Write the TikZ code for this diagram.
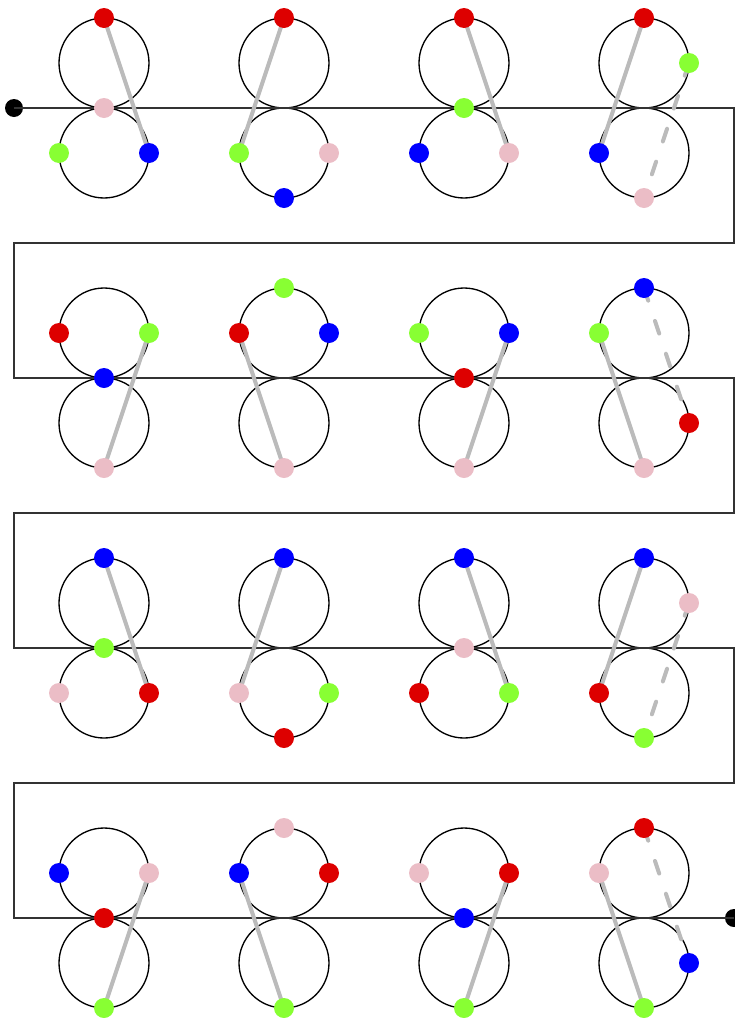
\documentclass[tikz,border=0pt]{standalone}
\definecolor{cred}{HTML}{DD0000}
\definecolor{cgreen}{HTML}{88FF33}
\definecolor{cblue}{HTML}{0000FF}
\definecolor{cpink}{HTML}{EBBDC6}
\definecolor{cgray}{HTML}{BBBBBB}
\begin{document}
\begin{tikzpicture}[x=0.75pt,y=-0.75pt,
  ring/.style={draw=black,line width=1pt},
  track/.style={draw=black!80,line width=1pt},
  link/.style={draw=cgray,line width=3pt,line cap=round},
  dlink/.style={link,dash pattern=on 10pt off 16pt},
  pt/.style={circle,inner sep=0pt,minimum size=15pt,fill=#1,draw=none},
  enddot/.style={circle,inner sep=0pt,minimum size=13.5pt,fill=black,draw=none}]
\useasboundingbox (0,0) rectangle (735,1018);
% cell coordinates
\foreach \r in {0,...,3}{
  \foreach \c in {0,...,3}{
    \pgfmathsetmacro\cx{104+180*\c}
    \pgfmathsetmacro\cy{108+270*\r}
    \coordinate (k\r\c-M)  at (\cx,\cy);
    \coordinate (k\r\c-U)  at (\cx,\cy-45);
    \coordinate (k\r\c-L)  at (\cx,\cy+45);
    \coordinate (k\r\c-T)  at (\cx,\cy-90);
    \coordinate (k\r\c-B)  at (\cx,\cy+90);
    \coordinate (k\r\c-UL) at (\cx-45,\cy-45);
    \coordinate (k\r\c-UR) at (\cx+45,\cy-45);
    \coordinate (k\r\c-LL) at (\cx-45,\cy+45);
    \coordinate (k\r\c-LR) at (\cx+45,\cy+45);
  }
}
% circles
\foreach \r in {0,...,3}{
  \foreach \c in {0,...,3}{
    \draw[ring] (k\r\c-U) circle[radius=33.75pt];
    \draw[ring] (k\r\c-L) circle[radius=33.75pt];
  }
}
% serpentine track
\node[enddot] (start) at (14,108) {};
\node[enddot] (finish) at (734,918) {};
\coordinate (p1) at (734,108);
\coordinate (p2) at (734,243);
\coordinate (p3) at (14,243);
\coordinate (p4) at (14,378);
\coordinate (p5) at (734,378);
\coordinate (p6) at (734,513);
\coordinate (p7) at (14,513);
\coordinate (p8) at (14,648);
\coordinate (p9) at (734,648);
\coordinate (p10) at (734,783);
\coordinate (p11) at (14,783);
\coordinate (p12) at (14,918);
\draw[track] (start.center) -- (p1) -- (p2) -- (p3) -- (p4) -- (p5) -- (p6)
  -- (p7) -- (p8) -- (p9) -- (p10) -- (p11) -- (p12) -- (finish.center);
% gray links
\draw[link] (k00-T) -- (k00-LR);
\draw[link] (k01-T) -- (k01-LL);
\draw[link] (k02-T) -- (k02-LR);
\draw[link] (k03-T) -- (k03-LL);
\draw[dlink] (k03-UR) -- (k03-B);
\draw[link] (k10-UR) -- (k10-B);
\draw[link] (k11-UL) -- (k11-B);
\draw[link] (k12-UR) -- (k12-B);
\draw[link] (k13-UL) -- (k13-B);
\draw[dlink] (k13-T) -- (k13-LR);
\draw[link] (k20-T) -- (k20-LR);
\draw[link] (k21-T) -- (k21-LL);
\draw[link] (k22-T) -- (k22-LR);
\draw[link] (k23-T) -- (k23-LL);
\draw[dlink] (k23-UR) -- (k23-B);
\draw[link] (k30-UR) -- (k30-B);
\draw[link] (k31-UL) -- (k31-B);
\draw[link] (k32-UR) -- (k32-B);
\draw[link] (k33-UL) -- (k33-B);
\draw[dlink] (k33-T) -- (k33-LR);
% dots
\foreach \k/\p/\col in {
  00/T/cred, 00/M/cpink, 00/LL/cgreen, 00/LR/cblue,
  01/T/cred, 01/LL/cgreen, 01/LR/cpink, 01/B/cblue,
  02/T/cred, 02/M/cgreen, 02/LL/cblue, 02/LR/cpink,
  03/T/cred, 03/UR/cgreen, 03/LL/cblue, 03/B/cpink,
  10/UL/cred, 10/UR/cgreen, 10/M/cblue, 10/B/cpink,
  11/T/cgreen, 11/UL/cred, 11/UR/cblue, 11/B/cpink,
  12/UL/cgreen, 12/UR/cblue, 12/M/cred, 12/B/cpink,
  13/T/cblue, 13/UL/cgreen, 13/LR/cred, 13/B/cpink,
  20/T/cblue, 20/M/cgreen, 20/LL/cpink, 20/LR/cred,
  21/T/cblue, 21/LL/cpink, 21/LR/cgreen, 21/B/cred,
  22/T/cblue, 22/M/cpink, 22/LL/cred, 22/LR/cgreen,
  23/T/cblue, 23/UR/cpink, 23/LL/cred, 23/B/cgreen,
  30/UL/cblue, 30/UR/cpink, 30/M/cred, 30/B/cgreen,
  31/T/cpink, 31/UL/cblue, 31/UR/cred, 31/B/cgreen,
  32/UL/cpink, 32/UR/cred, 32/M/cblue, 32/B/cgreen,
  33/T/cred, 33/UL/cpink, 33/LR/cblue, 33/B/cgreen}{
  \node[pt=\col] (d\k-\p) at (k\k-\p) {};
}
\end{tikzpicture}
\end{document}
